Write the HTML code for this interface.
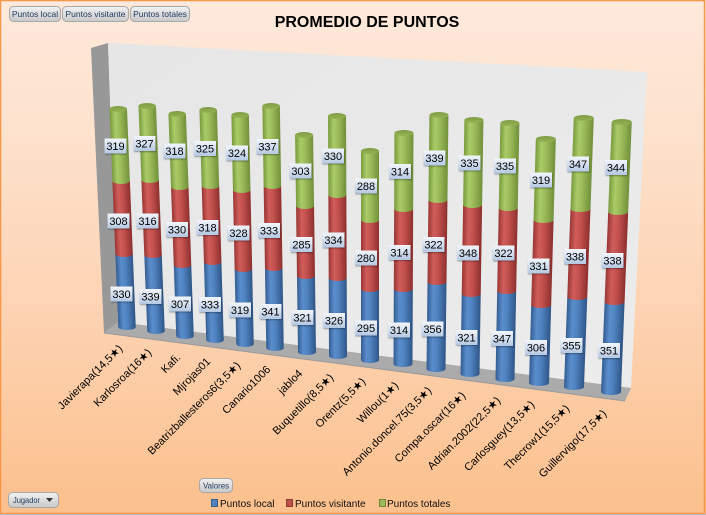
<!DOCTYPE html>
<html><head><meta charset="utf-8"><style>
html,body{margin:0;padding:0;width:706px;height:515px;overflow:hidden;background:#fcd2ae}
svg{display:block}
.lb rect{fill:url(#gl);filter:url(#sh)}
.lb text{font:11px "Liberation Sans",sans-serif;fill:#000;text-anchor:middle}
.cat{font:11px "Liberation Sans","DejaVu Sans",sans-serif;fill:#000;text-anchor:end;dominant-baseline:central}
.btn{fill:url(#gbtn);stroke:#a8a8a8;stroke-width:1}
.bt{font:8.5px "Liberation Sans",sans-serif;fill:#1f3a5f;text-anchor:middle}
.lg{font:10px "Liberation Sans",sans-serif;fill:#111}
</style></head><body>
<svg width="706" height="515" viewBox="0 0 706 515" xmlns="http://www.w3.org/2000/svg">
<defs>
<linearGradient id="bg" x1="0" y1="0" x2="0" y2="1">
<stop offset="0" stop-color="#fee9dc"/><stop offset="0.25" stop-color="#fde2cd"/><stop offset="0.6" stop-color="#fdd3b3"/><stop offset="1" stop-color="#fbc08c"/>
</linearGradient>
<linearGradient id="wall" x1="0" y1="0" x2="1" y2="1">
<stop offset="0" stop-color="#e6e6e6"/><stop offset="1" stop-color="#ececec"/>
</linearGradient>
<linearGradient id="gb" x1="0" y1="0" x2="1" y2="0">
<stop offset="0" stop-color="#345d91"/><stop offset="0.3" stop-color="#5a8dcc"/><stop offset="0.55" stop-color="#4f82c0"/><stop offset="1" stop-color="#2f5687"/>
</linearGradient>
<linearGradient id="gr" x1="0" y1="0" x2="1" y2="0">
<stop offset="0" stop-color="#983634"/><stop offset="0.3" stop-color="#d05d5a"/><stop offset="0.55" stop-color="#c2504d"/><stop offset="1" stop-color="#8d302e"/>
</linearGradient>
<linearGradient id="gg" x1="0" y1="0" x2="1" y2="0">
<stop offset="0" stop-color="#799a3d"/><stop offset="0.3" stop-color="#aacb68"/><stop offset="0.55" stop-color="#9bbb59"/><stop offset="1" stop-color="#71903a"/>
</linearGradient>
<linearGradient id="gc" x1="0" y1="0" x2="0" y2="1">
<stop offset="0" stop-color="#7e9c44"/><stop offset="1" stop-color="#94b452"/>
</linearGradient>
<linearGradient id="gl" x1="0" y1="0" x2="0" y2="1">
<stop offset="0" stop-color="#f3f6fb"/><stop offset="1" stop-color="#b5c9e3"/>
</linearGradient>
<linearGradient id="gbtn" x1="0" y1="0" x2="0" y2="1">
<stop offset="0" stop-color="#f2f2f2"/><stop offset="1" stop-color="#c8c8c8"/>
</linearGradient>
<filter id="sh" x="-30%" y="-30%" width="160%" height="160%">
<feDropShadow dx="0.5" dy="1" stdDeviation="0.8" flood-color="#000" flood-opacity="0.35"/>
</filter>
</defs>

<rect x="0" y="0" width="706" height="515" fill="url(#bg)"/>
<rect x="0.5" y="0.5" width="704" height="513" fill="none" stroke="#f79646" stroke-width="1.5"/>
<line x1="0" y1="514.5" x2="706" y2="514.5" stroke="#bdbdbd" stroke-width="1"/>

<!-- buttons -->
<rect class="btn" x="9.5" y="6.5" width="51" height="15" rx="4"/>
<text class="bt" x="35" y="17">Puntos local</text>
<rect class="btn" x="62.5" y="6.5" width="66" height="15" rx="4"/>
<text class="bt" x="95.5" y="17">Puntos visitante</text>
<rect class="btn" x="130.5" y="6.5" width="59" height="15" rx="4"/>
<text class="bt" x="160" y="17">Puntos totales</text>

<text x="367" y="27" font-family="Liberation Sans, sans-serif" font-size="16" font-weight="bold" text-anchor="middle" fill="#000">PROMEDIO DE PUNTOS</text>

<!-- walls -->
<polygon points="91,48 108,43 118,322 104,333" fill="#989898"/>
<polygon points="108,43 647,72 631,388 118,322" fill="url(#wall)"/>
<polygon points="118,322 631,388 625,401 104,333" fill="#ababab"/>
<line x1="104" y1="333" x2="625" y2="401" stroke="#9a9a9a" stroke-width="1"/>

<!-- cylinders -->
<g transform="translate(127,327) skewX(2.30)"><path fill="url(#gb)" d="M-8.75 -73H8.75V0A8.75 3 0 0 1 -8.75 0Z"/><path fill="url(#gr)" d="M-8.75 -146H8.75V-73A8.75 3 0 0 1 -8.75 -73Z"/><path fill="url(#gg)" d="M-8.75 -218H8.75V-146A8.75 3 0 0 1 -8.75 -146Z"/><ellipse cx="0" cy="-218" rx="8.75" ry="3" fill="url(#gc)"/></g>
<g transform="translate(156,331) skewX(2.23)"><path fill="url(#gb)" d="M-8.75 -76H8.75V0A8.75 3 0 0 1 -8.75 0Z"/><path fill="url(#gr)" d="M-8.75 -151H8.75V-76A8.75 3 0 0 1 -8.75 -76Z"/><path fill="url(#gg)" d="M-8.75 -225H8.75V-151A8.75 3 0 0 1 -8.75 -151Z"/><ellipse cx="0" cy="-225" rx="8.75" ry="3" fill="url(#gc)"/></g>
<g transform="translate(185,336) skewX(2.01)"><path fill="url(#gb)" d="M-8.75 -71H8.75V0A8.75 3 0 0 1 -8.75 0Z"/><path fill="url(#gr)" d="M-8.75 -149H8.75V-71A8.75 3 0 0 1 -8.75 -71Z"/><path fill="url(#gg)" d="M-8.75 -222H8.75V-149A8.75 3 0 0 1 -8.75 -149Z"/><ellipse cx="0" cy="-222" rx="8.75" ry="3" fill="url(#gc)"/></g>
<g transform="translate(215,340) skewX(1.70)"><path fill="url(#gb)" d="M-8.75 -78H8.75V0A8.75 3 0 0 1 -8.75 0Z"/><path fill="url(#gr)" d="M-8.75 -154H8.75V-78A8.75 3 0 0 1 -8.75 -78Z"/><path fill="url(#gg)" d="M-8.75 -230H8.75V-154A8.75 3 0 0 1 -8.75 -154Z"/><ellipse cx="0" cy="-230" rx="8.75" ry="3" fill="url(#gc)"/></g>
<g transform="translate(245,344) skewX(1.22)"><path fill="url(#gb)" d="M-8.75 -75H8.75V0A8.75 3 0 0 1 -8.75 0Z"/><path fill="url(#gr)" d="M-8.75 -154H8.75V-75A8.75 3 0 0 1 -8.75 -75Z"/><path fill="url(#gg)" d="M-8.75 -229H8.75V-154A8.75 3 0 0 1 -8.75 -154Z"/><ellipse cx="0" cy="-229" rx="8.75" ry="3" fill="url(#gc)"/></g>
<g transform="translate(275,348) skewX(0.92)"><path fill="url(#gb)" d="M-8.75 -80H8.75V0A8.75 3 0 0 1 -8.75 0Z"/><path fill="url(#gr)" d="M-8.75 -162H8.75V-80A8.75 3 0 0 1 -8.75 -80Z"/><path fill="url(#gg)" d="M-8.75 -242H8.75V-162A8.75 3 0 0 1 -8.75 -162Z"/><ellipse cx="0" cy="-242" rx="8.75" ry="3" fill="url(#gc)"/></g>
<g transform="translate(307,352) skewX(0.77)"><path fill="url(#gb)" d="M-9 -76H9V0A9 3 0 0 1 -9 0Z"/><path fill="url(#gr)" d="M-9 -146H9V-76A9 3 0 0 1 -9 -76Z"/><path fill="url(#gg)" d="M-9 -217H9V-146A9 3 0 0 1 -9 -146Z"/><ellipse cx="0" cy="-217" rx="9" ry="3" fill="url(#gc)"/></g>
<g transform="translate(338,356) skewX(0.23)"><path fill="url(#gb)" d="M-9 -78H9V0A9 3 0 0 1 -9 0Z"/><path fill="url(#gr)" d="M-9 -161H9V-78A9 3 0 0 1 -9 -78Z"/><path fill="url(#gg)" d="M-9 -240H9V-161A9 3 0 0 1 -9 -161Z"/><ellipse cx="0" cy="-240" rx="9" ry="3" fill="url(#gc)"/></g>
<g transform="translate(370,360)"><path fill="url(#gb)" d="M-9 -71H9V0A9 3 0 0 1 -9 0Z"/><path fill="url(#gr)" d="M-9 -140H9V-71A9 3 0 0 1 -9 -71Z"/><path fill="url(#gg)" d="M-9 -209H9V-140A9 3 0 0 1 -9 -140Z"/><ellipse cx="0" cy="-209" rx="9" ry="3" fill="url(#gc)"/></g>
<g transform="translate(403,364) skewX(-0.24)"><path fill="url(#gb)" d="M-9.5 -75H9.5V0A9.5 3 0 0 1 -9.5 0Z"/><path fill="url(#gr)" d="M-9.5 -155H9.5V-75A9.5 3 0 0 1 -9.5 -75Z"/><path fill="url(#gg)" d="M-9.5 -231H9.5V-155A9.5 3 0 0 1 -9.5 -155Z"/><ellipse cx="0" cy="-231" rx="9.5" ry="3" fill="url(#gc)"/></g>
<g transform="translate(436,369) skewX(-0.66)"><path fill="url(#gb)" d="M-9.5 -87H9.5V0A9.5 3 0 0 1 -9.5 0Z"/><path fill="url(#gr)" d="M-9.5 -169H9.5V-87A9.5 3 0 0 1 -9.5 -87Z"/><path fill="url(#gg)" d="M-9.5 -254H9.5V-169A9.5 3 0 0 1 -9.5 -169Z"/><ellipse cx="0" cy="-254" rx="9.5" ry="3" fill="url(#gc)"/></g>
<g transform="translate(470,374) skewX(-0.88)"><path fill="url(#gb)" d="M-9.5 -80H9.5V0A9.5 3 0 0 1 -9.5 0Z"/><path fill="url(#gr)" d="M-9.5 -169H9.5V-80A9.5 3 0 0 1 -9.5 -80Z"/><path fill="url(#gg)" d="M-9.5 -254H9.5V-169A9.5 3 0 0 1 -9.5 -169Z"/><ellipse cx="0" cy="-254" rx="9.5" ry="3" fill="url(#gc)"/></g>
<g transform="translate(505,379) skewX(-1.09)"><path fill="url(#gb)" d="M-9.5 -88H9.5V0A9.5 3 0 0 1 -9.5 0Z"/><path fill="url(#gr)" d="M-9.5 -171H9.5V-88A9.5 3 0 0 1 -9.5 -88Z"/><path fill="url(#gg)" d="M-9.5 -256H9.5V-171A9.5 3 0 0 1 -9.5 -171Z"/><ellipse cx="0" cy="-256" rx="9.5" ry="3" fill="url(#gc)"/></g>
<g transform="translate(539,383) skewX(-1.60)"><path fill="url(#gb)" d="M-10 -78H10V0A10 3 0 0 1 -10 0Z"/><path fill="url(#gr)" d="M-10 -163H10V-78A10 3 0 0 1 -10 -78Z"/><path fill="url(#gg)" d="M-10 -244H10V-163A10 3 0 0 1 -10 -163Z"/><ellipse cx="0" cy="-244" rx="10" ry="3" fill="url(#gc)"/></g>
<g transform="translate(574,387) skewX(-2.08)"><path fill="url(#gb)" d="M-10 -90H10V0A10 3 0 0 1 -10 0Z"/><path fill="url(#gr)" d="M-10 -178H10V-90A10 3 0 0 1 -10 -90Z"/><path fill="url(#gg)" d="M-10 -269H10V-178A10 3 0 0 1 -10 -178Z"/><ellipse cx="0" cy="-269" rx="10" ry="3" fill="url(#gc)"/></g>
<g transform="translate(611,392) skewX(-2.28)"><path fill="url(#gb)" d="M-10 -90H10V0A10 3 0 0 1 -10 0Z"/><path fill="url(#gr)" d="M-10 -180H10V-90A10 3 0 0 1 -10 -90Z"/><path fill="url(#gg)" d="M-10 -270H10V-180A10 3 0 0 1 -10 -180Z"/><ellipse cx="0" cy="-270" rx="10" ry="3" fill="url(#gc)"/></g>

<!-- data labels -->
<g class="lb"><rect x="104.5" y="138.5" width="22" height="15"/><text x="115.5" y="150">319</text></g>
<g class="lb"><rect x="107.5" y="213.5" width="22" height="15"/><text x="118.5" y="225">308</text></g>
<g class="lb"><rect x="110.5" y="286.5" width="22" height="15"/><text x="121.5" y="298">330</text></g>
<g class="lb"><rect x="133.5" y="136" width="22" height="15"/><text x="144.5" y="147.5">327</text></g>
<g class="lb"><rect x="136.5" y="213.5" width="22" height="15"/><text x="147.5" y="225">316</text></g>
<g class="lb"><rect x="139.5" y="289" width="22" height="15"/><text x="150.5" y="300.5">339</text></g>
<g class="lb"><rect x="163.5" y="143.5" width="22" height="15"/><text x="174.5" y="155">318</text></g>
<g class="lb"><rect x="166" y="222" width="22" height="15"/><text x="177" y="233.5">330</text></g>
<g class="lb"><rect x="169" y="296.5" width="22" height="15"/><text x="180" y="308">307</text></g>
<g class="lb"><rect x="194" y="141" width="22" height="15"/><text x="205" y="152.5">325</text></g>
<g class="lb"><rect x="196.5" y="220" width="22" height="15"/><text x="207.5" y="231.5">318</text></g>
<g class="lb"><rect x="199" y="297" width="22" height="15"/><text x="210" y="308.5">333</text></g>
<g class="lb"><rect x="226" y="145.5" width="22" height="15"/><text x="237" y="157">324</text></g>
<g class="lb"><rect x="227.5" y="225.5" width="22" height="15"/><text x="238.5" y="237">328</text></g>
<g class="lb"><rect x="229" y="302.5" width="22" height="15"/><text x="240" y="314">319</text></g>
<g class="lb"><rect x="256.5" y="139" width="22" height="15"/><text x="267.5" y="150.5">337</text></g>
<g class="lb"><rect x="258" y="223" width="22" height="15"/><text x="269" y="234.5">333</text></g>
<g class="lb"><rect x="259.5" y="304" width="22" height="15"/><text x="270.5" y="315.5">341</text></g>
<g class="lb"><rect x="289.5" y="163.5" width="22" height="15"/><text x="300.5" y="175">303</text></g>
<g class="lb"><rect x="290.5" y="237" width="22" height="15"/><text x="301.5" y="248.5">285</text></g>
<g class="lb"><rect x="291.5" y="310" width="22" height="15"/><text x="302.5" y="321.5">321</text></g>
<g class="lb"><rect x="322" y="148.5" width="22" height="15"/><text x="333" y="160">330</text></g>
<g class="lb"><rect x="322.5" y="232.5" width="22" height="15"/><text x="333.5" y="244">334</text></g>
<g class="lb"><rect x="323" y="313" width="22" height="15"/><text x="334" y="324.5">326</text></g>
<g class="lb"><rect x="355" y="178.5" width="22" height="15"/><text x="366" y="190">288</text></g>
<g class="lb"><rect x="355" y="250.5" width="22" height="15"/><text x="366" y="262">280</text></g>
<g class="lb"><rect x="355" y="320.5" width="22" height="15"/><text x="366" y="332">295</text></g>
<g class="lb"><rect x="389" y="164" width="22" height="15"/><text x="400" y="175.5">314</text></g>
<g class="lb"><rect x="388.5" y="245" width="22" height="15"/><text x="399.5" y="256.5">314</text></g>
<g class="lb"><rect x="388" y="322.5" width="22" height="15"/><text x="399" y="334">314</text></g>
<g class="lb"><rect x="423.5" y="150.5" width="22" height="15"/><text x="434.5" y="162">339</text></g>
<g class="lb"><rect x="422.5" y="237" width="22" height="15"/><text x="433.5" y="248.5">322</text></g>
<g class="lb"><rect x="421.5" y="321.5" width="22" height="15"/><text x="432.5" y="333">356</text></g>
<g class="lb"><rect x="458.5" y="155.5" width="22" height="15"/><text x="469.5" y="167">335</text></g>
<g class="lb"><rect x="457" y="245.5" width="22" height="15"/><text x="468" y="257">348</text></g>
<g class="lb"><rect x="455.5" y="330" width="22" height="15"/><text x="466.5" y="341.5">321</text></g>
<g class="lb"><rect x="494" y="158.5" width="22" height="15"/><text x="505" y="170">335</text></g>
<g class="lb"><rect x="492.5" y="245.5" width="22" height="15"/><text x="503.5" y="257">322</text></g>
<g class="lb"><rect x="491" y="331" width="22" height="15"/><text x="502" y="342.5">347</text></g>
<g class="lb"><rect x="530" y="172.5" width="22" height="15"/><text x="541" y="184">319</text></g>
<g class="lb"><rect x="527.5" y="258.5" width="22" height="15"/><text x="538.5" y="270">331</text></g>
<g class="lb"><rect x="525" y="340" width="22" height="15"/><text x="536" y="351.5">306</text></g>
<g class="lb"><rect x="567" y="156.5" width="22" height="15"/><text x="578" y="168">347</text></g>
<g class="lb"><rect x="564" y="249" width="22" height="15"/><text x="575" y="260.5">338</text></g>
<g class="lb"><rect x="560.5" y="338" width="22" height="15"/><text x="571.5" y="349.5">355</text></g>
<g class="lb"><rect x="605" y="160" width="22" height="15"/><text x="616" y="171.5">344</text></g>
<g class="lb"><rect x="601.5" y="253" width="22" height="15"/><text x="612.5" y="264.5">338</text></g>
<g class="lb"><rect x="598" y="343" width="22" height="15"/><text x="609" y="354.5">351</text></g>

<!-- category labels -->
<text class="cat" transform="translate(121,347) rotate(-45)">Javierapa(14,5★)</text>
<text class="cat" transform="translate(150,351) rotate(-45)">Karlosroa(16★)</text>
<text class="cat" transform="translate(179,356) rotate(-45)">Kafi.</text>
<text class="cat" transform="translate(209,360) rotate(-45)">Mjrojas01</text>
<text class="cat" transform="translate(239,364) rotate(-45)">Beatrizballesteros6(3,5★)</text>
<text class="cat" transform="translate(269,368) rotate(-45)">Canario1006</text>
<text class="cat" transform="translate(301,372) rotate(-45)">jablo4</text>
<text class="cat" transform="translate(332,376) rotate(-45)">Buquetillo(8,5★)</text>
<text class="cat" transform="translate(364,380) rotate(-45)">Orentz(5,5★)</text>
<text class="cat" transform="translate(397,384) rotate(-45)">Willou(1★)</text>
<text class="cat" transform="translate(430,389) rotate(-45)">Antonio.doncel.75(3,5★)</text>
<text class="cat" transform="translate(464,394) rotate(-45)">Compa.oscar(16★)</text>
<text class="cat" transform="translate(499,399) rotate(-45)">Adrian.2002(22,5★)</text>
<text class="cat" transform="translate(533,403) rotate(-45)">Carlosguey(13,5★)</text>
<text class="cat" transform="translate(568,407) rotate(-45)">Thecrow1(15,5★)</text>
<text class="cat" transform="translate(605,412) rotate(-45)">Guillervigo(17,5★)</text>

<!-- bottom controls -->
<rect class="btn" x="199.5" y="478.5" width="33" height="14" rx="4"/>
<text class="bt" x="216" y="488.5" font-size="8" textLength="26" lengthAdjust="spacingAndGlyphs">Valores</text>
<rect class="btn" x="8.5" y="492.5" width="50" height="15" rx="4"/>
<text x="13" y="503" font-family="Liberation Sans, sans-serif" font-size="8" fill="#1f3a5f" textLength="27" lengthAdjust="spacingAndGlyphs">Jugador</text>
<polygon points="46,498 53,498 49.5,502" fill="#333"/>

<!-- legend -->
<rect x="211.5" y="499.5" width="6" height="7" fill="#4f81bd" stroke="#385d8a" stroke-width="1"/>
<text class="lg" x="220" y="507">Puntos local</text>
<rect x="286.5" y="499.5" width="6" height="7" fill="#c0504d" stroke="#8c3836" stroke-width="1"/>
<text class="lg" x="295" y="507">Puntos visitante</text>
<rect x="379.5" y="499.5" width="6" height="7" fill="#9bbb59" stroke="#71893f" stroke-width="1"/>
<text class="lg" x="387" y="507">Puntos totales</text>
</svg>
</body></html>
